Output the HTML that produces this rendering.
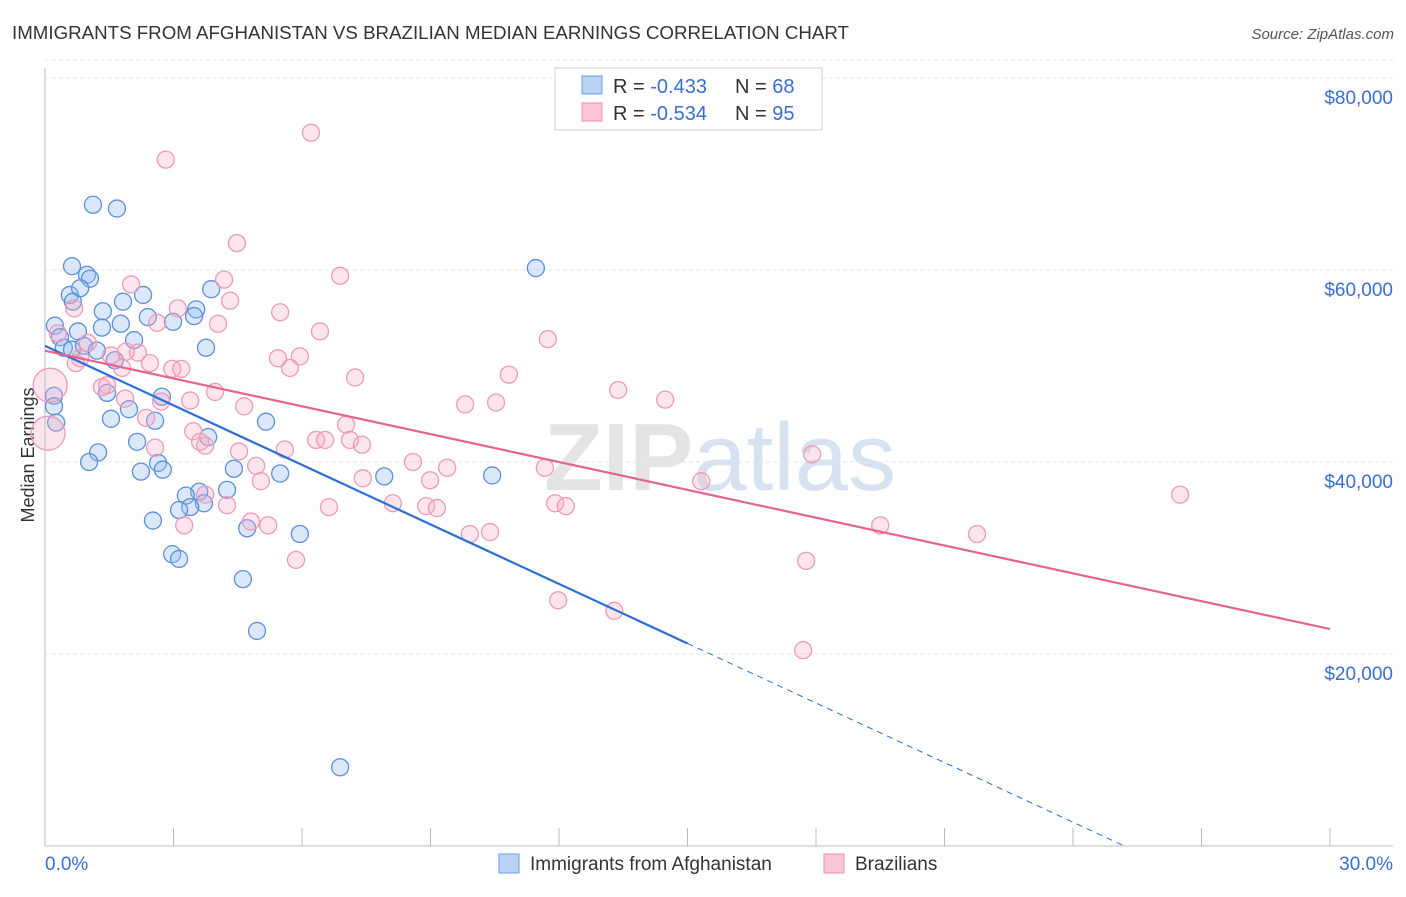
<!DOCTYPE html>
<html><head><meta charset="utf-8"><style>
body{margin:0;background:#fff;font-family:"Liberation Sans",sans-serif}
svg text{font-family:"Liberation Sans",sans-serif}
</style></head><body>
<svg id="c" width="1406" height="892">
<text x="12" y="39" font-size="18" fill="#333" textLength="837" lengthAdjust="spacingAndGlyphs">IMMIGRANTS FROM AFGHANISTAN VS BRAZILIAN MEDIAN EARNINGS CORRELATION CHART</text>
<text x="1394" y="39" font-size="15" fill="#555" font-style="italic" text-anchor="end">Source: ZipAtlas.com</text>
<text x="720" y="490" font-size="96" fill="#e4e4e4" text-anchor="middle" font-weight="bold">ZIP<tspan fill="#d6e2f0" font-weight="normal">atlas</tspan></text>
<text transform="translate(34,455) rotate(-90)" font-size="18" fill="#333" text-anchor="middle">Median Earnings</text>
<g id="grid"></g><g id="pts"></g><g id="lines"></g>
<g>
<rect x="555" y="68" width="267" height="62" fill="#fff" stroke="#ccc"/>
<rect x="582" y="76" width="20" height="18" fill="#b8d3f5" stroke="#6a9be0"/>
<rect x="582" y="103" width="20" height="18" fill="#fbc6d6" stroke="#ec8fae"/>
<text x="613" y="93" font-size="20" fill="#333">R = <tspan fill="#3a6fd0">-0.433</tspan></text>
<text x="735" y="93" font-size="20" fill="#333">N = <tspan fill="#3a6fd0">68</tspan></text>
<text x="613" y="120" font-size="20" fill="#333">R = <tspan fill="#3a6fd0">-0.534</tspan></text>
<text x="735" y="120" font-size="20" fill="#333">N = <tspan fill="#3a6fd0">95</tspan></text>
</g>
<g>
<rect x="499" y="854" width="20" height="19" fill="#b8d3f5" stroke="#6a9be0"/>
<text x="530" y="870" font-size="19" fill="#333">Immigrants from Afghanistan</text>
<rect x="824" y="854" width="20" height="19" fill="#fbc6d6" stroke="#ec8fae"/>
<text x="855" y="870" font-size="19" fill="#333">Brazilians</text>
</g>
</svg>
<script>
const yTicks=[20000,40000,60000,80000];
const yTickLabels=["$20,000","$40,000","$60,000","$80,000"];
const xEndLabels=["0.0%","30.0%"];
const blueX=[1.12,1.68,0.63,0.98,1.05,0.58,0.82,2.29,3.88,11.46,0.65,1.35,1.82,0.23,3.53,2.40,2.99,3.48,0.77,1.33,1.77,2.08,3.76,0.35,0.44,0.63,0.91,1.21,1.63,0.21,1.45,2.73,0.21,0.26,1.96,1.54,2.57,5.16,3.81,1.24,2.15,1.03,2.64,2.75,4.41,2.24,5.49,7.92,10.44,3.60,4.25,3.29,3.71,3.39,3.13,2.52,4.72,5.95,2.97,3.13,4.62,4.95,6.89];
const blueY=[66800,66400,60400,59500,59100,57400,58100,57400,58000,60200,56700,55700,56700,54200,55900,55100,54600,55200,53600,54000,54400,52700,51900,53000,51900,51700,52100,51600,50600,46900,47200,46800,45800,44100,45500,44500,44300,44200,42600,41000,42100,40000,39900,39200,39300,39000,38800,38500,38600,36900,37100,36500,35700,35300,35000,33900,33100,32500,30400,29900,27800,22400,8200];
const pinkX=[6.21,2.82,4.48,6.89,4.18,2.01,4.32,3.10,5.49,0.68,4.04,6.42,2.62,11.74,1.00,0.30,2.17,5.44,5.95,1.89,1.54,0.82,2.45,2.97,5.72,3.18,1.80,0.72,10.83,7.24,1.45,1.33,3.97,1.87,2.71,3.39,13.38,14.48,9.81,10.53,4.65,2.36,7.03,0.07,3.46,6.33,6.54,7.12,7.40,3.74,4.53,2.57,3.62,8.59,9.39,4.93,5.60,11.67,8.99,5.04,3.74,7.42,17.91,15.32,26.50,4.25,6.63,8.12,8.90,9.15,11.91,12.16,4.81,5.21,3.25,19.50,21.76,9.92,10.39,5.86,17.77,11.98,13.29,17.70,0.12];
const pinkY=[74300,71500,62800,59400,59000,58500,56800,56000,55600,56000,54400,53600,54500,52800,52400,53400,51400,50800,51000,51500,51100,50800,50300,49700,49800,49700,49800,50300,49100,48800,48000,47800,47300,46600,46300,46400,47500,46500,46000,46200,45800,44600,43900,43000,43200,42300,42300,42300,41800,41700,41100,41500,42100,40000,39400,39600,41300,39400,38100,38000,36600,38300,40800,38000,36600,35500,35300,35700,35400,35200,35700,35400,33800,33400,33400,33400,32500,32500,32700,29800,29700,25600,24500,20400,48000];
const pinkR=[];for(let i=0;i<pinkX.length;i++)pinkR.push(i===43||i===84?17:8.5);
const blueLine=[[0,52100],[15,21100]], blueDash=[[15,21100],[25.2,0]];
const pinkLine=[[0,51600],[30,22600]];
const X=v=>45+v*(1330-45)/30, Y=v=>846-v*192/20000;
const ns="http://www.w3.org/2000/svg";
function mk(t,a,p){const e=document.createElementNS(ns,t);for(const k in a)e.setAttribute(k,a[k]);p.appendChild(e);return e;}
const g=document.getElementById('grid');
const ax=mk('line',{x1:45,y1:68,x2:45,y2:846,stroke:'#bbb'},g);


const bx=mk('line',{x1:45,y1:846,x2:1393,y2:846,stroke:'#bbb'},g);


yTicks.forEach((t,i)=>{
 const l=mk('line',{x1:45,x2:1393,y1:Y(t),y2:Y(t),stroke:'#e6e6e6','stroke-dasharray':'4,3'},g);
 
 
 const tx=mk('text',{x:1393,y:Y(t)+26,'font-size':19,fill:'#3a6fd0','text-anchor':'end'},g);tx.textContent=yTickLabels[i];
 
 
});
mk('line',{x1:45,x2:1393,y1:Y(80000)-18,y2:Y(80000)-18,stroke:'#e6e6e6','stroke-dasharray':'4,3'},g);
for(let i=1;i<=10;i++){const tk=mk('line',{x1:X(i*3),x2:X(i*3),y1:828,y2:846,stroke:'#bbb'},g);
 
 }
[[0,'start',45],[30,'end',1393]].forEach((d,i)=>{const t=mk('text',{x:d[2],y:870,'font-size':19,fill:'#3a6fd0','text-anchor':d[1]},g);t.textContent=xEndLabels[i];
 
 });
const p=document.getElementById('pts');
blueX.forEach((x,i)=>{const c=mk('circle',{cx:X(x),cy:Y(blueY[i]),r:8.5,fill:'rgba(150,190,240,0.35)',stroke:'#5c8fdc','stroke-width':1.3},p);
 
 });
pinkX.forEach((x,i)=>{const c=mk('circle',{cx:X(x),cy:Y(pinkY[i]),r:pinkR[i],fill:'rgba(248,170,195,0.3)',stroke:'#ee9ab5','stroke-width':1.3},p);
 
 });
const L=document.getElementById('lines');
const l1=mk('line',{x1:X(blueLine[0][0]),y1:Y(blueLine[0][1]),x2:X(blueLine[1][0]),y2:Y(blueLine[1][1]),stroke:'#2b6fd6','stroke-width':2.2},L);


const l2=mk('line',{x1:X(blueDash[0][0]),y1:Y(blueDash[0][1]),x2:X(blueDash[1][0]),y2:Y(blueDash[1][1]),stroke:'#2b6fd6','stroke-width':1,'stroke-dasharray':'6,5'},L);


const l3=mk('line',{x1:X(pinkLine[0][0]),y1:Y(pinkLine[0][1]),x2:X(pinkLine[1][0]),y2:Y(pinkLine[1][1]),stroke:'#e5648f','stroke-width':2.2},L);


</script>
</body></html>
